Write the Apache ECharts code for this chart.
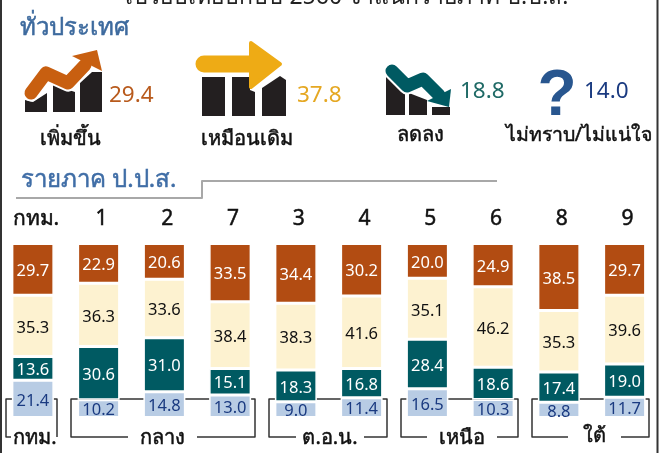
<!DOCTYPE html>
<html><head><meta charset="utf-8">
<style>html,body{margin:0;padding:0;background:#fff}#c{width:670px;height:453px}</style>
<script src="https://cdn.jsdelivr.net/npm/echarts@6/dist/echarts.min.js"></script>
</head><body><div id="c"></div>
<script>
var regions = ['กทม.','1','2','7','3','4','5','6','8','9'];
var increased = [29.7,22.9,20.6,33.5,34.4,30.2,20.0,24.9,38.5,29.7];
var same = [35.3,36.3,33.6,38.4,38.3,41.6,35.1,46.2,35.3,39.6];
var decreased = [13.6,30.6,31.0,15.1,18.3,16.8,28.4,18.6,17.4,19.0];
var unsure = [21.4,10.2,14.8,13.0,9.0,11.4,16.5,10.3,8.8,11.7];
var overallValues = ['29.4','37.8','18.8','14.0'];
var overallLabels = ['เพิ่มขึ้น','เหมือนเดิม','ลดลง','ไม่ทราบ/ไม่แน่ใจ'];
var groupNames = ['กทม.','กลาง','ต.อ.น.','เหนือ','ใต้'];

var FONT = '"Noto Sans","Liberation Sans",sans-serif';
var C = {brown:'#b24c12',cream:'#fdf2d0',teal:'#005a62',blue:'#b8cce4',navy:'#1a3a80'};

function seg(name,data,color,labelColor){
  return {name:name,type:'bar',stack:'a',data:data,barWidth:42,
    itemStyle:{color:color,borderColor:'#fff',borderWidth:1.5},
    label:{show:true,position:'inside',offset:[0,2],color:labelColor,fontSize:16.5,fontFamily:FONT,
      formatter:function(p){return p.value.toFixed(1);}}};
}
function txt(x,y,t,size,color,align,extra){
  return {type:'text',x:x,y:y,z:5,style:Object.assign({text:t,fontSize:size,fontFamily:FONT,fill:color,
    align:align||'center',verticalAlign:'middle'},extra||{})};
}
function heavy(x,y,t,size,color,align){
  return txt(x,y,t,size,color,align,{stroke:color,lineWidth:0.5});
}
function poly(pts,fill,z){return {type:'polygon',z:z===undefined?3:z,shape:{points:pts},style:{fill:fill}};}
function pline(pts,stroke,w,z,cap){return {type:'polyline',z:z===undefined?3:z,shape:{points:pts},
  style:{stroke:stroke,lineWidth:w,fill:null,lineJoin:'round',lineCap:cap||'round'}};}
function bracket(l,r,g1,g2,y1,y2){
  return pline([[g1,y2],[l,y2],[l,y1],[r,y1],[r,y2],[g2,y2]],'#333',1.5,0,'butt');
}

var graphics = [
  pline([[1,0],[1,453]],'#333',2,6,'butt'),
  pline([[657.5,0],[657.5,453]],'#333',2,6,'butt'),
  txt(347,-3,'เปรียบเทียบกับปี 2560 จำแนกรายภาค ป.ป.ส.',23,'#222'),
  heavy(20,28,'ทั่วประเทศ',24,'#3d6a9e','left'),
  heavy(21,180,'รายภาค ป.ป.ส.',24,'#3f6da6','left'),
  pline([[16,198],[202,198],[202,181],[497,181]],'#a8a8a8',2,2,'butt'),

  // rising icon
  poly([[25,100],[33,102],[47,93],[47,112],[25,112]],'#231f20'),
  poly([[53,85],[75,92],[75,112],[53,112]],'#231f20'),
  poly([[80,83],[92,72],[102,72],[102,112],[80,112]],'#231f20'),
  pline([[31,93],[46,73],[68,83],[85,65]],'#fff',17,4),
  pline([[31,93],[46,73],[68,83],[85,65]],'#c85f10',13,4),
  poly([[72,56],[97,50],[102,71]],'#c85f10',4),

  // flat icon
  poly([[202,77],[225,77],[225,116],[202,116]],'#231f20'),
  poly([[232,77],[250,77],[250,90],[255,92],[255,116],[232,116]],'#231f20'),
  poly([[262,88],[280,76],[286,80],[286,116],[262,116]],'#231f20'),
  pline([[204,64],[252,64]],'#eeab15',17,4),
  {type:'polygon',z:4,shape:{points:[[251,43],[280,64],[251,87]]},
    style:{fill:'#eeab15',stroke:'#eeab15',lineWidth:4,lineJoin:'round'}},

  // falling icon
  poly([[386,76],[405,93],[405,115],[386,115]],'#231f20'),
  poly([[409,93],[427,100],[427,115],[409,115]],'#231f20'),
  poly([[432,107],[450,107],[450,115],[432,115]],'#231f20'),
  pline([[392,71],[407,86],[423,79],[439,95]],'#fff',17,4),
  pline([[392,71],[407,86],[423,79],[439,95]],'#005a62',13,4),
  poly([[427,101],[449,107],[451,89]],'#005a62',4),

  // unknown icon
  {type:'text',x:557,y:97,z:4,style:{text:'?',fontSize:64,fontWeight:'bold',fontFamily:'"Liberation Sans",sans-serif',
    fill:'#28568f',align:'center',verticalAlign:'middle'}},

  txt(109,96,overallValues[0],22.5,'#b85a1c','left'),
  txt(297,96,overallValues[1],22.5,'#e5a823','left'),
  txt(460,92,overallValues[2],22.5,'#1f6a66','left'),
  txt(584,92,overallValues[3],22.5,C.navy,'left'),
  heavy(70,139,overallLabels[0],20,'#111'),
  heavy(247,139,overallLabels[1],20,'#111'),
  heavy(420,135,overallLabels[2],20,'#111'),
  heavy(579,135,overallLabels[3],19.5,'#111'),

  bracket(6,57,11,57,399,437),
  bracket(71,255,128,197,399,437),
  bracket(269,387,296,364,399,437),
  bracket(401,518,427,497,399,437),
  bracket(532,649,568,621,399,437),
  heavy(35,438,groupNames[0],20,'#111'),
  heavy(162,438,groupNames[1],20,'#111'),
  heavy(330,438,groupNames[2],20,'#111'),
  heavy(462,438,groupNames[3],20,'#111'),
  heavy(594,436,groupNames[4],20,'#111')
];

var chart = echarts.init(document.getElementById('c'),null,{renderer:'canvas'});
chart.setOption({
  animation:false,
  backgroundColor:'#fff',
  grid:{left:-1,right:12.5,top:243.5,bottom:35.5,containLabel:false},
  xAxis:{type:'category',position:'top',data:regions,
    axisLine:{show:false},axisTick:{show:false},
    axisLabel:{show:true,interval:0,margin:14,color:'#111',fontSize:21,fontFamily:FONT,padding:[0,0,0,6],
      textBorderColor:'#111',textBorderWidth:0.5}},
  yAxis:{type:'value',min:0,max:100,show:false},
  series:[
    seg('ไม่ทราบ/ไม่แน่ใจ',unsure,C.blue,C.navy),
    seg('ลดลง',decreased,C.teal,'#fff'),
    seg('เหมือนเดิม',same,C.cream,'#111'),
    seg('เพิ่มขึ้น',increased,C.brown,'#fff')
  ],
  graphic:{elements:graphics}
});
</script></body></html>
